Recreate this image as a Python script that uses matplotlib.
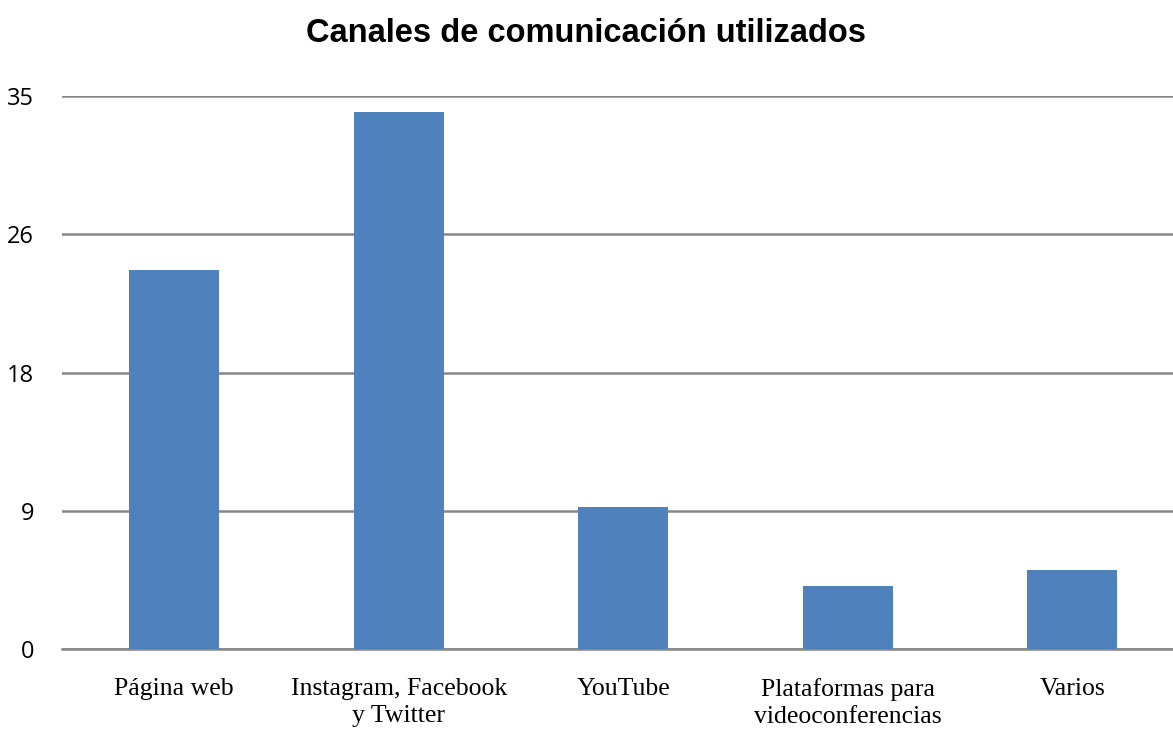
import matplotlib
matplotlib.use("Agg")
import matplotlib.pyplot as plt
import numpy as np

categories = ["Página web", "Instagram, Facebook\ny Twitter", "YouTube",
              "Plataformas para\nvideoconferencias", "Varios"]
values = [24, 34, 9, 4, 5]
yticks = [0, 8.75, 17.5, 26.25, 35]
ytick_labels = ["0", "9", "18", "26", "35"]

fig = plt.figure(figsize=(11.73, 7.31), dpi=100)
ax = fig.add_axes([62/1173, 1-649/731, 1-62/1173, (649-96)/731])

x = np.arange(len(categories))
ax.bar(x, values, width=0.40, color="#4F81BD", zorder=3)

ax.set_ylim(0, 35)
ax.set_xlim(-0.5, 4.449)
ax.set_yticks(yticks)
ax.set_yticklabels(ytick_labels, fontfamily="Open Sans", fontsize=17)
ax.yaxis.grid(True, color="#878787", linewidth=1.8, zorder=0)
ax.set_xticks(x)
ax.set_xticklabels(categories, fontfamily="Liberation Serif", fontsize=18.5, linespacing=1.3)
ax.tick_params(axis="both", length=0)
ax.tick_params(axis="x", pad=21)
ax.tick_params(axis="y", pad=20)
for s in ["top", "right", "left"]:
    ax.spines[s].set_visible(False)
ax.spines["bottom"].set_color("#878787")
ax.spines["bottom"].set_linewidth(1.8)

fig.text(0.5, 1-33/731, "Canales de comunicación utilizados", ha="center", va="center",
         fontfamily="Liberation Sans", fontweight="bold", fontsize=23.5)

fig.savefig("out.png", dpi=100)
